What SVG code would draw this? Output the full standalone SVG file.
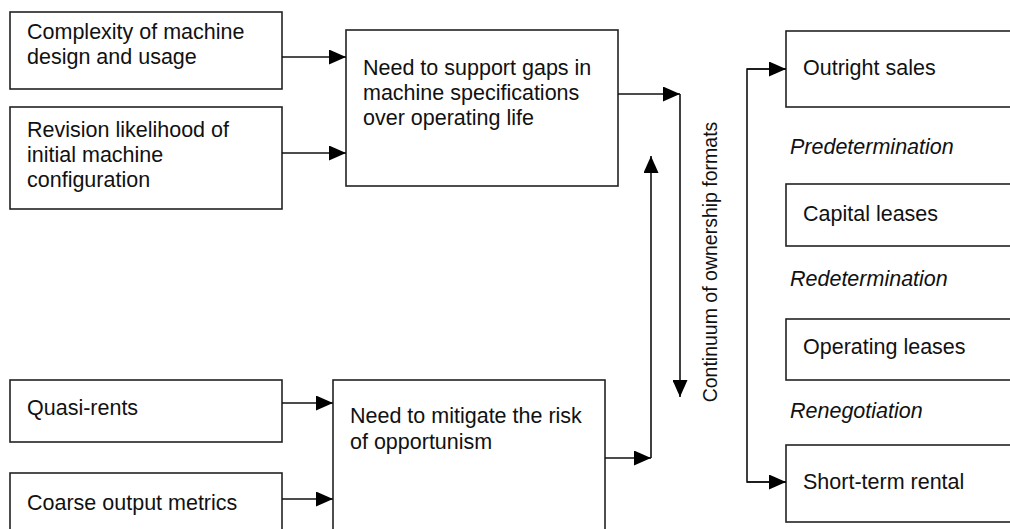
<svg xmlns="http://www.w3.org/2000/svg" width="1010" height="529" viewBox="0 0 1010 529">
<defs>
<marker id="ah" markerUnits="userSpaceOnUse" markerWidth="18" markerHeight="15" refX="17" refY="7.5" orient="auto">
<path d="M0,0 L17,7.5 L0,15 z" fill="#000"/>
</marker>
<style>
rect.box{fill:#fff;stroke:#222;stroke-width:1.6}
text{font-family:"Liberation Sans",Arial,sans-serif;font-size:21.5px;fill:#111}
text.it{font-style:italic}
.conn line,.conn polyline{stroke:#111;stroke-width:1.6;fill:none}
</style>
</defs>
<rect width="1010" height="529" fill="#fff"/>
<g id="n-complexity"><rect class="box" x="10" y="12" width="272" height="77"/><text x="27" y="39">Complexity of machine</text><text x="27" y="64">design and usage</text></g>
<g id="n-revision"><rect class="box" x="10" y="107" width="272" height="102"/><text x="27" y="137">Revision likelihood of</text><text x="27" y="162">initial machine</text><text x="27" y="187">configuration</text></g>
<g id="n-support"><rect class="box" x="346" y="30" width="272" height="156"/><text x="363" y="75">Need to support gaps in</text><text x="363" y="100">machine specifications</text><text x="363" y="125">over operating life</text></g>
<g id="n-quasi"><rect class="box" x="10" y="380" width="272" height="62"/><text x="27" y="415">Quasi-rents</text></g>
<g id="n-coarse"><rect class="box" x="10" y="473" width="272" height="70"/><text x="27" y="510">Coarse output metrics</text></g>
<g id="n-mitigate"><rect class="box" x="333" y="380" width="272" height="165"/><text x="350" y="423">Need to mitigate the risk</text><text x="350" y="449">of opportunism</text></g>
<g id="n-continuum"><text transform="translate(717,262) rotate(-90)" text-anchor="middle" style="font-size:19.5px">Continuum of ownership formats</text></g>
<g id="n-outright"><rect class="box" x="786" y="31" width="230" height="76"/><text x="803" y="75">Outright sales</text></g>
<g id="l-pre"><text class="it" x="790" y="154">Predetermination</text></g>
<g id="n-capital"><rect class="box" x="786" y="184" width="230" height="62"/><text x="803" y="221">Capital leases</text></g>
<g id="l-re"><text class="it" x="790" y="286">Redetermination</text></g>
<g id="n-operating"><rect class="box" x="786" y="319" width="230" height="61"/><text x="803" y="354">Operating leases</text></g>
<g id="l-reneg"><text class="it" x="790" y="418">Renegotiation</text></g>
<g id="n-short"><rect class="box" x="786" y="445" width="230" height="77"/><text x="803" y="489">Short-term rental</text></g>
<g class="conn" id="connectors">
<line x1="282" y1="57" x2="346" y2="57" marker-end="url(#ah)"/>
<line x1="282" y1="153" x2="346" y2="153" marker-end="url(#ah)"/>
<line x1="618" y1="94" x2="680" y2="94" marker-end="url(#ah)"/>
<line x1="680" y1="94" x2="680" y2="397" marker-end="url(#ah)"/>
<line x1="282" y1="403" x2="333" y2="403" marker-end="url(#ah)"/>
<line x1="282" y1="499" x2="333" y2="499" marker-end="url(#ah)"/>
<line x1="605" y1="458" x2="651" y2="458" marker-end="url(#ah)"/>
<line x1="651" y1="458" x2="651" y2="156" marker-end="url(#ah)"/>
<polyline points="786,69 747,69 747,482 786,482"/>
<line x1="747" y1="69" x2="786" y2="69" marker-end="url(#ah)"/>
<line x1="747" y1="482" x2="786" y2="482" marker-end="url(#ah)"/>
</g>
</svg>
